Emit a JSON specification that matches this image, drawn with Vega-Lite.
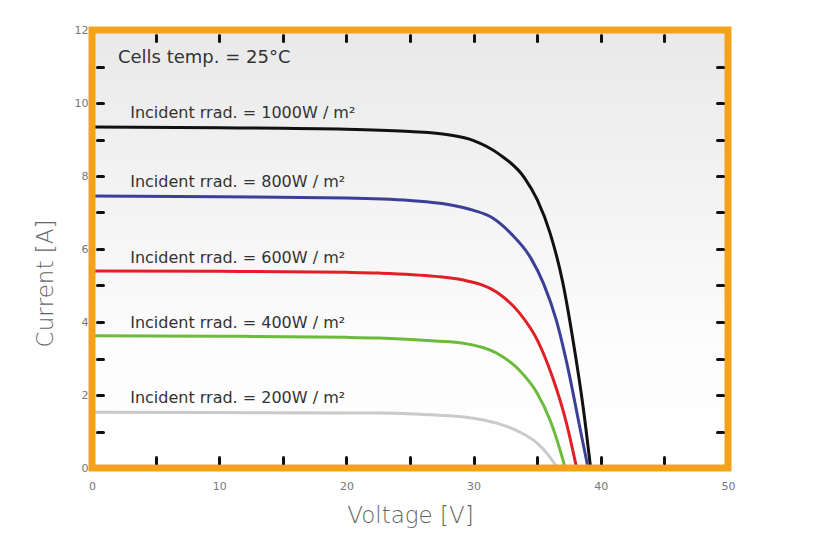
{
  "$schema": "https://vega.github.io/schema/vega-lite/v6.json",
  "width": 636,
  "height": 438,
  "autosize": "none",
  "padding": {"left": 92, "top": 30, "right": 92, "bottom": 85},
  "background": "#ffffff",
  "config": {
    "view": {"stroke": null},
    "font": "DejaVu Sans",
    "axis": {
      "domain": false,
      "grid": false,
      "tickColor": "#111111",
      "tickWidth": 3,
      "tickCap": "round",
      "tickSize": -6,
      "offset": -5,
      "labelColor": "#777777",
      "labelFont": "DejaVu Sans",
      "labelFontSize": 11,
      "labelFlush": false,
      "titleFont": "DejaVu Sans",
      "titleFontSize": 23,
      "titleFontWeight": 200,
      "titleColor": "#666666"
    }
  },
  "datasets": {
    "curves": [
      {"series": "1000", "V": 0, "I": 9.34}, {"series": "1000", "V": 10, "I": 9.32}, {"series": "1000", "V": 20, "I": 9.28}, {"series": "1000", "V": 25, "I": 9.22}, {"series": "1000", "V": 28, "I": 9.13}, {"series": "1000", "V": 30, "I": 8.97}, {"series": "1000", "V": 32, "I": 8.6}, {"series": "1000", "V": 34, "I": 7.95}, {"series": "1000", "V": 35, "I": 7.35}, {"series": "1000", "V": 36, "I": 6.45}, {"series": "1000", "V": 37, "I": 5.1}, {"series": "1000", "V": 38, "I": 3.1}, {"series": "1000", "V": 38.6, "I": 1.7}, {"series": "1000", "V": 39.2, "I": 0},
      {"series": "800", "V": 0, "I": 7.45}, {"series": "800", "V": 10, "I": 7.43}, {"series": "800", "V": 20, "I": 7.4}, {"series": "800", "V": 25, "I": 7.33}, {"series": "800", "V": 28, "I": 7.22}, {"series": "800", "V": 30, "I": 7.06}, {"series": "800", "V": 31.5, "I": 6.85}, {"series": "800", "V": 33, "I": 6.4}, {"series": "800", "V": 34.5, "I": 5.75}, {"series": "800", "V": 35.5, "I": 5.05}, {"series": "800", "V": 36.5, "I": 4.05}, {"series": "800", "V": 37.5, "I": 2.6}, {"series": "800", "V": 38.3, "I": 1.2}, {"series": "800", "V": 39.0, "I": 0},
      {"series": "600", "V": 0, "I": 5.4}, {"series": "600", "V": 10, "I": 5.39}, {"series": "600", "V": 20, "I": 5.36}, {"series": "600", "V": 22.6, "I": 5.34}, {"series": "600", "V": 27, "I": 5.25}, {"series": "600", "V": 29.2, "I": 5.15}, {"series": "600", "V": 31.8, "I": 4.82}, {"series": "600", "V": 33.6, "I": 4.25}, {"series": "600", "V": 35, "I": 3.51}, {"series": "600", "V": 36.2, "I": 2.49}, {"series": "600", "V": 37.3, "I": 1.23}, {"series": "600", "V": 38.1, "I": 0},
      {"series": "400", "V": 0, "I": 3.62}, {"series": "400", "V": 10, "I": 3.61}, {"series": "400", "V": 20, "I": 3.58}, {"series": "400", "V": 22.6, "I": 3.56}, {"series": "400", "V": 27, "I": 3.48}, {"series": "400", "V": 29.2, "I": 3.42}, {"series": "400", "V": 31.8, "I": 3.15}, {"series": "400", "V": 33.6, "I": 2.68}, {"series": "400", "V": 35, "I": 2.05}, {"series": "400", "V": 36, "I": 1.32}, {"series": "400", "V": 36.8, "I": 0.49}, {"series": "400", "V": 37.2, "I": 0},
      {"series": "200", "V": 0, "I": 1.53}, {"series": "200", "V": 10, "I": 1.52}, {"series": "200", "V": 20, "I": 1.51}, {"series": "200", "V": 22.6, "I": 1.51}, {"series": "200", "V": 27, "I": 1.45}, {"series": "200", "V": 29.2, "I": 1.4}, {"series": "200", "V": 31.8, "I": 1.23}, {"series": "200", "V": 33.6, "I": 0.99}, {"series": "200", "V": 35, "I": 0.68}, {"series": "200", "V": 36, "I": 0.3}, {"series": "200", "V": 36.6, "I": 0}
    ],
    "labels": [
      {"V": 2.04, "I": 11.23, "text": "Cells temp. = 25°C", "size": "big"},
      {"V": 3.0, "I": 9.73, "text": "Incident rrad. = 1000W / m²", "size": "small"},
      {"V": 3.0, "I": 7.84, "text": "Incident rrad. = 800W / m²", "size": "small"},
      {"V": 3.0, "I": 5.75, "text": "Incident rrad. = 600W / m²", "size": "small"},
      {"V": 3.0, "I": 3.97, "text": "Incident rrad. = 400W / m²", "size": "small"},
      {"V": 3.0, "I": 1.92, "text": "Incident rrad. = 200W / m²", "size": "small"}
    ],
    "frame": [{"V": 0, "V2": 50, "I": 0, "I2": 12}]
  },
  "resolve": {"axis": {"x": "independent", "y": "independent"}},
  "layer": [
    {
      "data": {"name": "frame"},
      "mark": {
        "type": "rect",
        "color": {"gradient": "linear", "x1": 0, "y1": 0, "x2": 0, "y2": 1,
          "stops": [{"offset": 0, "color": "#e9e9e9"}, {"offset": 0.45, "color": "#f5f5f5"}, {"offset": 0.75, "color": "#fdfdfd"}, {"offset": 1, "color": "#ffffff"}]}
      },
      "encoding": {
        "x": {"field": "V", "type": "quantitative", "scale": {"domain": [0, 50], "nice": false, "zero": false},
          "axis": {"orient": "bottom", "zindex": 2, "values": [0, 5, 10, 15, 20, 25, 30, 35, 40, 45, 50],
            "labelExpr": "datum.value % 10 == 0 ? datum.label : ''",
            "tickOpacity": {"condition": {"test": "datum.value == 0 || datum.value == 50", "value": 0}, "value": 1},
            "labelPadding": 23, "title": "Voltage [V]", "titlePadding": 13}},
        "x2": {"field": "V2"},
        "y": {"field": "I", "type": "quantitative", "scale": {"domain": [0, 12], "nice": false, "zero": false},
          "axis": {"orient": "left", "zindex": 2, "values": [0, 1, 2, 3, 4, 5, 6, 7, 8, 9, 10, 11, 12],
            "labelExpr": "datum.value % 2 == 0 ? datum.label : ''",
            "tickOpacity": {"condition": {"test": "datum.value == 0 || datum.value == 12", "value": 0}, "value": 1},
            "labelPadding": 15, "title": "Current [A]", "titleX": -52, "titleY": 253, "titleAngle": -90, "titleBaseline": "middle", "titleAlign": "center"}},
        "y2": {"field": "I2"}
      }
    },
    {
      "data": {"name": "curves"},
      "mark": {"type": "line", "interpolate": "monotone", "strokeWidth": 3},
      "encoding": {
        "x": {"field": "V", "type": "quantitative",
          "axis": {"orient": "top", "zindex": 2, "values": [5, 10, 15, 20, 25, 30, 35, 40, 45], "labels": false, "title": null}},
        "y": {"field": "I", "type": "quantitative",
          "axis": {"orient": "right", "zindex": 2, "values": [1, 2, 3, 4, 5, 6, 7, 8, 9, 10, 11], "labels": false, "title": null}},
        "color": {"field": "series", "type": "nominal", "legend": null,
          "scale": {"domain": ["1000", "800", "600", "400", "200"], "range": ["#111111", "#3b3f98", "#e21f26", "#6cbb3c", "#cacaca"]}},
        "order": {"field": "V", "type": "quantitative"}
      }
    },
    {
      "data": {"name": "labels"},
      "mark": {"type": "text", "align": "left", "baseline": "middle", "color": "#333333", "font": "DejaVu Sans"},
      "encoding": {
        "x": {"field": "V", "type": "quantitative", "axis": null},
        "y": {"field": "I", "type": "quantitative", "axis": null},
        "text": {"field": "text"},
        "size": {"field": "size", "type": "nominal", "legend": null, "scale": {"domain": ["big", "small"], "range": [18, 16]}}
      }
    },
    {
      "data": {"name": "frame"},
      "mark": {"type": "rect", "fill": null, "filled": false, "stroke": "#f4a11c", "strokeWidth": 7},
      "encoding": {
        "x": {"field": "V", "type": "quantitative", "axis": null},
        "x2": {"field": "V2"},
        "y": {"field": "I", "type": "quantitative", "axis": null},
        "y2": {"field": "I2"}
      }
    }
  ]
}
